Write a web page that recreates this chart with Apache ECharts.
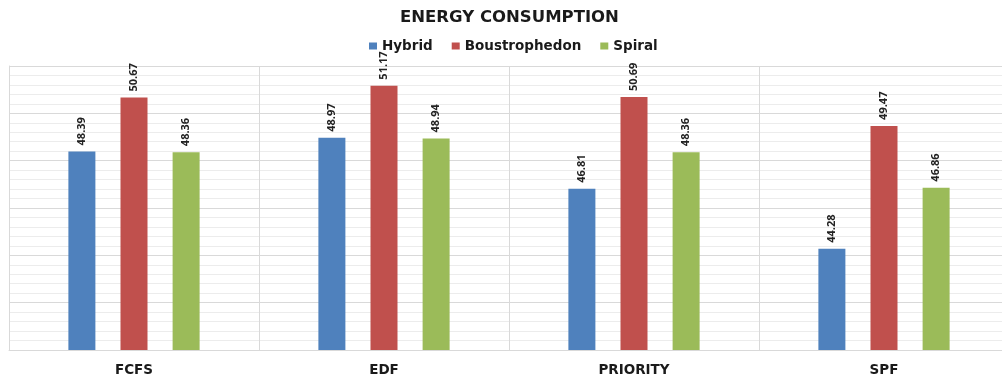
<!DOCTYPE html>
<html>
<head>
    <meta charset="utf-8">
    <script src="https://cdn.jsdelivr.net/npm/echarts@6/dist/echarts.min.js"></script>
</head>
<body style="margin: 0">
    <div id="main" style="width: 1002px; height: 381px"></div>
    <script type="text/javascript">
        var categories = ['FCFS', 'EDF', 'PRIORITY', 'SPF'];
        var hybrid = [48.39, 48.97, 46.81, 44.28];
        var boustrophedon = [50.67, 51.17, 50.69, 49.47];
        var spiral = [48.36, 48.94, 48.36, 46.86];

        var labelFont = '"Open Sans", sans-serif';
        var headFont = '"DejaVu Sans", sans-serif';

        function makeSerie(name, data, color) {
            return {
                name: name,
                type: 'bar',
                data: data,
                barWidth: 27,
                barGap: '93%',
                itemStyle: { color: color },
                label: {
                    show: true,
                    position: 'top',
                    rotate: 90,
                    align: 'left',
                    verticalAlign: 'middle',
                    distance: 6,
                    fontFamily: labelFont,
                    fontWeight: 'bold',
                    fontSize: 11,
                    color: '#222',
                    formatter: function (p) { return p.value.toFixed(2); }
                }
            };
        }

        window.onload = function () {
            var myChart = echarts.init(document.getElementById('main'));
            var option = {
                animation: false,
                backgroundColor: '#fff',
                title: {
                    text: 'ENERGY CONSUMPTION',
                    left: 395,
                    top: 4,
                    textStyle: {
                        fontFamily: headFont,
                        fontWeight: 'bold',
                        fontSize: 16.5,
                        color: '#1a1a1a'
                    }
                },
                legend: {
                    top: 34,
                    left: 364,
                    icon: 'rect',
                    itemWidth: 8,
                    itemHeight: 7,
                    itemGap: 19,
                    textStyle: {
                        fontFamily: headFont,
                        fontWeight: 'bold',
                        fontSize: 13.5,
                        color: '#1a1a1a'
                    }
                },
                grid: {
                    left: 9,
                    width: 1000,
                    top: 66,
                    bottom: 31,
                    outerBoundsMode: 'none'
                },
                xAxis: {
                    type: 'category',
                    data: categories,
                    axisLine: { lineStyle: { color: '#d9d9d9' } },
                    axisTick: { show: false },
                    splitLine: { show: true, lineStyle: { color: '#d9d9d9' } },
                    axisLabel: {
                        margin: 13,
                        fontFamily: headFont,
                        fontWeight: 'bold',
                        fontSize: 13.5,
                        color: '#1a1a1a'
                    }
                },
                yAxis: {
                    type: 'value',
                    min: 40,
                    max: 52,
                    interval: 2,
                    axisLabel: { show: false },
                    axisLine: { show: true, lineStyle: { color: '#d9d9d9' } },
                    splitLine: { lineStyle: { color: '#d9d9d9' } },
                    minorTick: { show: false, splitNumber: 5 },
                    minorSplitLine: { show: true, lineStyle: { color: '#ececec' } }
                },
                series: [
                    makeSerie('Hybrid', hybrid, '#4F81BD'),
                    makeSerie('Boustrophedon', boustrophedon, '#C0504D'),
                    makeSerie('Spiral', spiral, '#9BBB59')
                ]
            };
            myChart.setOption(option);
        };
    </script>
</body>
</html>
